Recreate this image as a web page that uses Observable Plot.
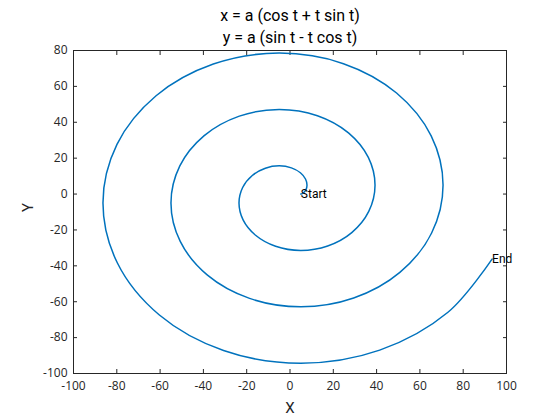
<!DOCTYPE html>
<html>
<head>
<meta charset="utf-8">
<script src="https://cdn.jsdelivr.net/npm/d3@7"></script>
<script src="https://cdn.jsdelivr.net/npm/@observablehq/plot@0.6"></script>
<style>
  html, body { margin: 0; padding: 0; background: #fff; }
  #chart svg { display: block; }
</style>
</head>
<body>
<div id="chart"></div>
<script>
// Points read along the spiral (involute, a ≈ 5, t from 0 to ≈ 20), every 22.5°
const curveX = [5, 5.37, 6.31, 7.36, 7.85, 7.16, 4.80, 0.64, -5, -11.38, -17.42, -21.87, -23.56, -21.67, -15.90, -6.65,
  5, 17.39, 28.53, 36.38, 39.27, 36.18, 27.01, 12.66, -5, -23.41, -39.63, -50.89, -54.98, -50.70, -38.12, -18.68,
  5, 29.42, 50.74, 65.41, 70.69, 65.21, 49.22, 24.69, -5, -35.43, -61.85, -79.92, -86.39, -79.72, -60.33, -30.70,
  5, 41.44, 72.96, 93.33];
const curveY = [0, 0.10, 0.76, 2.37, 5, 8.38, 11.87, 14.61, 15.71, 14.41, 10.35, 3.65, -5, -14.39, -22.97, -29.12,
  -31.42, -28.93, -21.46, -9.66, 5, 20.40, 34.08, 43.64, 47.12, 43.44, 32.56, 15.67, -5, -26.41, -45.19, -58.15,
  -62.83, -57.95, -43.67, -21.68, 5, 32.42, 56.29, 72.66, 78.54, 72.46, 54.78, 27.69, -5, -38.43, -67.40, -87.18,
  -94.25, -86.98, -65.88, -36.25];

const annotLabels = ["Start", "End"];
const annotX = [5, 93.33];
const annotY = [0, -36.25];

const titleLines = ["x = a (cos t + t sin t)", "y = a (sin t - t cos t)"];
const xTicks = [-100, -80, -60, -40, -20, 0, 20, 40, 60, 80, 100];
const yTicks = [-100, -80, -60, -40, -20, 0, 20, 40, 60, 80];

const pts = curveX.map((x, i) => ({x, y: curveY[i]}));
const annots = annotLabels.map((label, i) => ({label, x: annotX[i], y: annotY[i]}));

const ink = "#262626";
const fmt = d => String(d);
const chart = Plot.plot({
  width: 560,
  height: 420,
  marginLeft: 73,
  marginRight: 54,
  marginTop: 50,
  marginBottom: 47,
  style: {fontFamily: "Roboto, 'Open Sans', sans-serif", fontSize: "12px", color: ink, background: "#fff"},
  x: {domain: [-100, 100]},
  y: {domain: [-100, 80]},
  marks: [
    Plot.frame({stroke: ink}),
    Plot.axisX(xTicks, {anchor: "bottom", tickSize: -4, tickPadding: 12, tickFormat: fmt, label: null, stroke: ink, fill: ink, fontSize: 12, fontFamily: "'Open Sans', sans-serif"}),
    Plot.axisX(xTicks, {anchor: "top", tickSize: -4, tickFormat: () => "", label: null, stroke: ink}),
    Plot.axisY(yTicks, {anchor: "left", tickSize: -4, tickPadding: 10, tickFormat: fmt, label: null, stroke: ink, fill: ink, fontSize: 12, fontFamily: "'Open Sans', sans-serif"}),
    Plot.axisY(yTicks, {anchor: "right", tickSize: -4, tickFormat: () => "", label: null, stroke: ink}),
    Plot.line(pts, {x: "x", y: "y", curve: "catmull-rom", stroke: "#0072BD", strokeWidth: 1.5}),
    Plot.text(annots, {x: "x", y: "y", text: "label", textAnchor: "start", fill: "#000", fontSize: 12, fontFamily: "Roboto, sans-serif"}),
    Plot.text([titleLines[0]], {text: d => d, frameAnchor: "top", lineAnchor: "middle", dy: -35, fontSize: 16, fill: "#000", fontFamily: "Roboto, sans-serif"}),
    Plot.text([titleLines[1]], {text: d => d, frameAnchor: "top", lineAnchor: "middle", dy: -13, fontSize: 16, fill: "#000", fontFamily: "Roboto, sans-serif"}),
    Plot.text(["X"], {text: d => d, frameAnchor: "bottom", lineAnchor: "middle", dy: 35, fontSize: 15, fill: ink, fontFamily: "Roboto, sans-serif"}),
    Plot.text(["Y"], {text: d => d, frameAnchor: "left", dx: -45, rotate: -90, fontSize: 15, fill: ink, fontFamily: "Roboto, sans-serif"})
  ]
});
document.getElementById("chart").appendChild(chart);
</script>
</body>
</html>
